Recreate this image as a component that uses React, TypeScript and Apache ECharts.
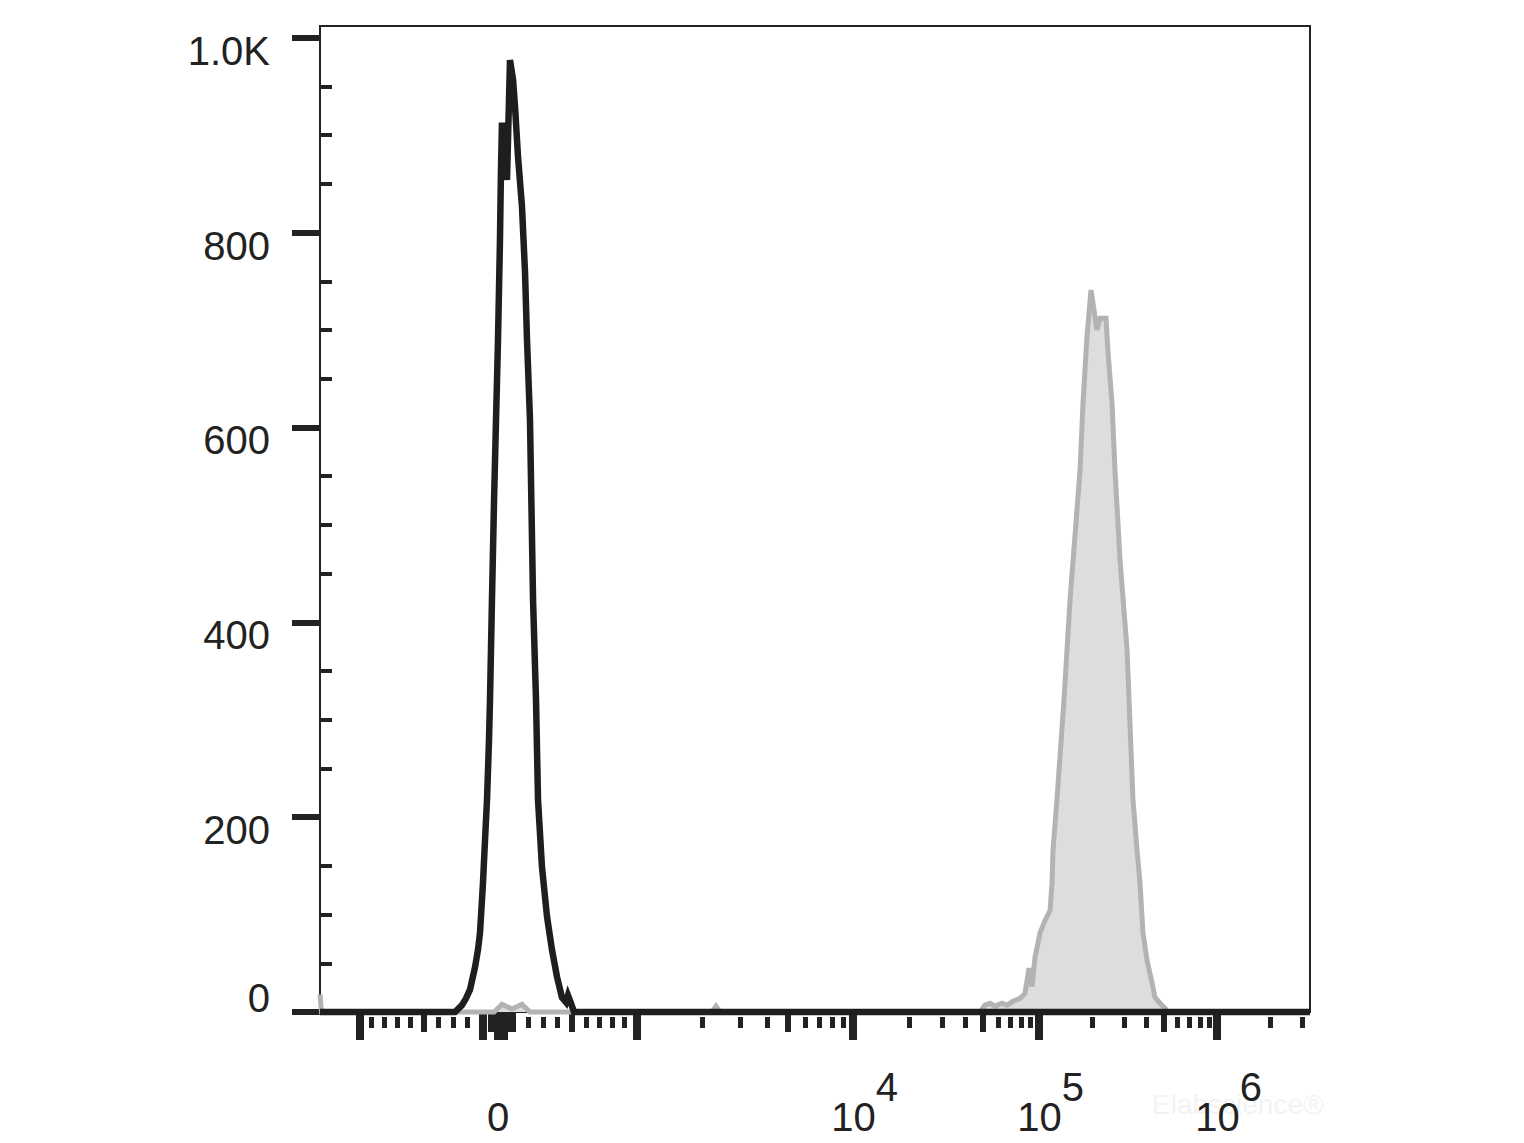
import React, { useEffect, useRef } from "react";
import * as echarts from "echarts";

// ---- Data (x in display channels 0..1000, y in event counts) ----
const blackChannels = [0, 136.4, 143.4, 147.5, 151.5, 156.6, 159.6, 161.6, 164.6, 166.7, 168.7, 170.7, 171.7, 173.7, 175.8, 177.8, 179.8, 181.8, 182.8, 183.8, 188.9, 191.9, 195, 197, 200, 204, 207.1, 209.1, 212.1, 215.2, 218.2, 220.2, 224.2, 229.3, 234.3, 239.4, 244.4, 248.5, 250.5, 253.5, 256.6, 1000];
const blackCounts = [0, 0, 7, 14, 23, 46, 64, 81, 132, 177, 218, 279, 320, 423, 525, 608, 690, 793, 864, 913, 854, 977, 957, 929, 878, 827, 759, 690, 608, 423, 320, 218, 149, 98, 64, 36, 15, 10, 17, 9, 0, 0];

const greyChannels = [0, 1.5, 175.8, 183.8, 193.9, 204, 212.1, 396, 400, 404, 666.7, 671.7, 676.8, 681.8, 688.9, 693.9, 700, 707.1, 712.1, 716.2, 719.2, 722.2, 727.3, 732.3, 737.4, 739.4, 740.4, 744.4, 751.5, 757.6, 767.7, 770.7, 774.7, 778.8, 784.8, 787.9, 793.9, 796, 800, 803, 808.1, 815.2, 819.2, 821.2, 825.3, 828.3, 831.3, 835.4, 840.4, 843.4, 848.5, 853.5, 856.6, 1000];
const greyCounts = [18, 0, 0, 8, 3, 8, 0, 0, 6, 0, 0, 7, 9, 6, 9, 7, 11, 14, 19, 45, 26, 56, 81, 94, 104, 132, 166, 218, 320, 423, 556, 625, 693, 741, 700, 712, 712, 677, 625, 556, 464, 372, 269, 218, 166, 132, 81, 53, 30, 15, 9, 4, 0, 0];

// ---- Axis ticks (real fluorescence values) ----
const xMajorTickValues = [-1000, -100, 0, 40, 1000, 1e4, 1e5, 1e6];
const xMediumTickValues = [-500, -50, 70, 100, 500, 5000, 5e4, 5e5];
const xMinorTickValues = [-900, -800, -700, -600, -400, -300, -200, 200, 300, 400, 600, 700, 800, 900, 2000, 3000, 4000, 6000, 7000, 8000, 9000, 2e4, 3e4, 4e4, 6e4, 7e4, 8e4, 9e4, 2e5, 3e5, 4e5, 6e5, 7e5, 8e5, 9e5, 2e6, 3e6];
const xLabelValues = [0, 1e4, 1e5, 1e6];

const yMajorTicks = [0, 200, 400, 600, 800, 1000];
const yMinorTicks = [50, 100, 150, 250, 300, 350, 450, 500, 550, 650, 700, 750, 850, 900, 950];

// ---- Biexponential-like display transform (value -> channel) ----
const LIN_CENTER = 179.8;
const LIN_GAIN = 184.2;
const LIN_WIDTH = 1200;
const DECADE_EXP = [3, 4, 5, 6];
const DECADE_CH = [320.2, 538.4, 726.3, 906.1];

function toChannel(v: number): number {
  if (v <= 1000) return LIN_CENTER + LIN_GAIN * Math.asinh(v / LIN_WIDTH);
  const e = Math.log10(v);
  for (let i = 0; i < DECADE_EXP.length - 1; i++) {
    if (e <= DECADE_EXP[i + 1]) {
      const t = (e - DECADE_EXP[i]) / (DECADE_EXP[i + 1] - DECADE_EXP[i]);
      return DECADE_CH[i] + t * (DECADE_CH[i + 1] - DECADE_CH[i]);
    }
  }
  const n = DECADE_CH.length;
  return DECADE_CH[n - 1] + (e - DECADE_EXP[n - 1]) * (DECADE_CH[n - 1] - DECADE_CH[n - 2]);
}

const FONT = "'Liberation Sans', Arial, Helvetica, sans-serif";
const INK = "#222222";

export default function App() {
  const ref = useRef<HTMLDivElement>(null);
  useEffect(() => {
    if (!ref.current) return;
    const chart = echarts.init(ref.current, undefined, { renderer: "svg" });

    const blackData = blackChannels.map((c, i) => [c, blackCounts[i]]);
    const greyData = greyChannels.map((c, i) => [c, greyCounts[i]]);
    const labelChannels = xLabelValues.map(toChannel);

    const xBase = {
      type: "value" as const,
      min: 0,
      max: 1000,
      position: "bottom" as const,
      offset: 5,
      splitLine: { show: false },
      axisPointer: { show: false },
    };

    const option: any = {
      animation: false,
      backgroundColor: "#ffffff",
      grid: {
        left: 320,
        top: 26,
        width: 990,
        height: 986,
        show: true,
        borderColor: INK,
        borderWidth: 2,
        backgroundColor: "transparent",
      },
      xAxis: [
        {
          ...xBase,
          axisLine: { show: true, lineStyle: { color: INK, width: 2 } },
          axisTick: {
            show: true,
            customValues: xMajorTickValues.map(toChannel),
            length: 28,
            lineStyle: { color: INK, width: 8 },
          },
          axisLabel: {
            show: true,
            customValues: labelChannels,
            margin: 80,
            formatter: (val: number) => {
              let best = 0;
              for (let i = 1; i < labelChannels.length; i++) {
                if (Math.abs(labelChannels[i] - val) < Math.abs(labelChannels[best] - val)) best = i;
              }
              const v = xLabelValues[best];
              if (v === 0) return "{z|0}";
              return "{b|10}{s|" + Math.round(Math.log10(v)) + "}";
            },
            rich: {
              b: { fontSize: 40, lineHeight: 40, fontFamily: FONT, color: INK, padding: [0, 0, 0, 23], verticalAlign: "bottom" },
              s: { fontSize: 40, lineHeight: 40, fontFamily: FONT, color: INK, padding: [0, 0, 30, 0], verticalAlign: "bottom" },
              z: { fontSize: 40, lineHeight: 40, fontFamily: FONT, color: INK, padding: [30, 0, 0, 0], verticalAlign: "bottom" },
            },
          },
        },
        {
          ...xBase,
          axisLine: { show: false },
          axisTick: {
            show: true,
            customValues: xMediumTickValues.map(toChannel),
            length: 20,
            lineStyle: { color: INK, width: 6 },
          },
          axisLabel: { show: false },
        },
        {
          ...xBase,
          axisLine: { show: false },
          axisTick: {
            show: true,
            customValues: xMinorTickValues.map(toChannel),
            length: 11,
            lineStyle: { color: INK, width: 5 },
          },
          axisLabel: { show: false },
        },
      ],
      yAxis: [
        {
          type: "value",
          min: 0,
          max: 1012,
          splitLine: { show: false },
          axisLine: { show: true, lineStyle: { color: INK, width: 2 } },
          axisTick: {
            show: true,
            customValues: yMajorTicks,
            length: 28,
            lineStyle: { color: INK, width: 6 },
          },
          axisLabel: {
            show: true,
            customValues: yMajorTicks,
            margin: 50,
            formatter: (v: number) => {
              if (v === 0) return "{z|0}";
              if (v === 1000) return "{d|1.0K}";
              return "{d|" + v + "}";
            },
            rich: {
              d: { fontSize: 40, lineHeight: 40, fontFamily: FONT, color: INK, padding: [26, 0, 0, 0] },
              z: { fontSize: 40, lineHeight: 40, fontFamily: FONT, color: INK, padding: [0, 0, 28, 0] },
            },
          },
        },
        {
          type: "value",
          min: 0,
          max: 1012,
          splitLine: { show: false },
          axisLine: { show: false },
          axisTick: {
            show: true,
            customValues: yMinorTicks,
            length: 12,
            lineStyle: { color: INK, width: 4 },
          },
          axisLabel: { show: false },
        },
      ],
      graphic: [
        {
          type: "text",
          left: 1152,
          top: 1090,
          style: { text: "Elabscience®", fontSize: 28, fontFamily: FONT, fill: "#f3f3f3" },
          silent: true,
          z: -1,
        },
      ],
      series: [
        {
          type: "line",
          name: "stained",
          data: greyData,
          xAxisIndex: 0,
          yAxisIndex: 0,
          showSymbol: false,
          symbol: "none",
          clip: false,
          lineStyle: { color: "#b3b3b3", width: 5, join: "miter" },
          areaStyle: { color: "#dedcdd", opacity: 1 },
          z: 2,
        },
        {
          type: "line",
          name: "control",
          data: blackData,
          xAxisIndex: 0,
          yAxisIndex: 0,
          showSymbol: false,
          symbol: "none",
          clip: false,
          lineStyle: { color: "#1e1e1e", width: 6.5, join: "miter" },
          z: 3,
        },
      ],
    };

    chart.setOption(option);
    return () => chart.dispose();
  }, []);

  return (
    <div
      ref={ref}
      style={{ position: "fixed", left: 0, top: 0, width: 1524, height: 1143, background: "#fff" }}
    />
  );
}
